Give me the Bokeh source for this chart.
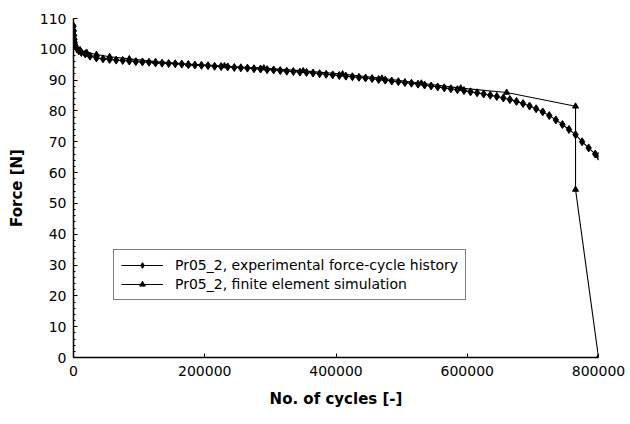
from bokeh.plotting import figure
from bokeh.models import (Range1d, FixedTicker, BasicTickFormatter, Legend, LegendItem,
                          ColumnDataSource)
from bokeh.embed import file_html
from bokeh.resources import INLINE

# Experimental force-cycle history (dense diamonds)
exp_cycles = [0, 500, 1000, 1500, 2000, 3000, 5000, 8000, 12000, 18000, 25000, 35000, 45000,
              55000, 65000, 75000, 85000, 95000, 105000, 115000, 125000, 135000, 145000,
              155000, 165000, 175000, 185000, 195000, 205000, 215000, 225000, 235000, 245000,
              255000, 265000, 275000, 285000, 295000, 305000, 315000, 325000, 335000, 345000,
              355000, 365000, 375000, 385000, 395000, 405000, 415000, 425000, 435000, 445000,
              455000, 465000, 475000, 485000, 495000, 505000, 515000, 525000, 535000, 545000,
              555000, 565000, 575000, 585000, 595000, 605000, 615000, 625000, 635000, 645000,
              655000, 665000, 675000, 685000, 695000, 705000, 715000, 725000, 735000, 745000,
              755000, 765000, 775000, 785000, 795000, 800000]
exp_force = [107.5, 106.0, 104.5, 103.2, 102.2, 101.2, 100.2, 99.5, 99.0, 98.5, 97.8, 97.2, 96.9,
             96.7, 96.5, 96.4, 96.2, 96.0, 95.9, 95.8, 95.6, 95.5, 95.4,
             95.3, 95.2, 95.0, 94.9, 94.8, 94.7, 94.5, 94.4, 94.3, 94.1,
             94.0, 93.9, 93.7, 93.6, 93.4, 93.3, 93.1, 92.9, 92.8, 92.6,
             92.5, 92.3, 92.1, 91.9, 91.7, 91.5, 91.3, 91.1, 90.9, 90.7,
             90.5, 90.2, 90.0, 89.7, 89.5, 89.2, 89.0, 88.7, 88.4, 88.1,
             87.8, 87.5, 87.2, 86.9, 86.6, 86.2, 85.9, 85.5, 85.1, 84.7,
             84.2, 83.7, 83.1, 82.4, 81.6, 80.7, 79.7, 78.5, 77.1, 75.6,
             74.0, 72.3, 70.0, 68.0, 66.0, 65.3]

# Finite element simulation (sparse triangles, failure drop)
sim_cycles = [0, 10000, 20000, 35000, 55000, 85000, 125000, 175000, 230000, 290000, 350000,
              410000, 470000, 530000, 590000, 660000, 765000, 765000, 800000]
sim_force = [101.5, 99.8, 99.0, 98.3, 97.6, 96.9, 96.0, 95.2, 94.6, 93.9, 93.0,
             92.0, 90.6, 89.0, 87.4, 86.0, 81.5, 54.5, 0.0]

x_ticks = [0, 200000, 400000, 600000, 800000]
y_ticks = [0, 10, 20, 30, 40, 50, 60, 70, 80, 90, 100, 110]

labels = ["Pr05_2, experimental force-cycle history", "Pr05_2, finite element simulation"]

p = figure(width=630, height=424, output_backend="svg", toolbar_location=None,
           x_range=Range1d(0, 800000), y_range=Range1d(0, 110),
           min_border_left=73, min_border_right=32, min_border_top=18, min_border_bottom=67)
p.outline_line_color = None
p.xgrid.visible = False
p.ygrid.visible = False
p.background_fill_color = "white"
p.border_fill_color = "white"

for ax in (p.xaxis, p.yaxis):
    ax.axis_line_color = "black"
    ax.axis_line_width = 1.5
    ax.major_tick_line_color = "black"
    ax.major_tick_in = 4
    ax.major_tick_out = 0
    ax.minor_tick_in = 2
    ax.minor_tick_out = 0
    ax.major_label_text_font = "DejaVu Sans"
    ax.major_label_text_font_size = "14px"
    ax.major_label_text_color = "black"
    ax.axis_label_text_font = "DejaVu Sans"
    ax.axis_label_text_font_style = "bold"
    ax.axis_label_text_font_size = "15px"
    ax.axis_label_text_color = "black"

p.xaxis.ticker = FixedTicker(ticks=x_ticks)
p.xaxis.formatter = BasicTickFormatter(use_scientific=False)
p.xaxis.minor_tick_line_color = None
p.xaxis.major_label_standoff = 8
p.xaxis.axis_label = "No. of cycles [-]"
p.xaxis.axis_label_standoff = 11

p.yaxis.ticker = FixedTicker(ticks=y_ticks, minor_ticks=[v for v in range(0, 111, 2)])
p.yaxis.minor_tick_line_color = "black"
p.yaxis.major_label_standoff = 7
p.yaxis.axis_label = "Force [N]"
p.yaxis.axis_label_standoff = 11

exp_src = ColumnDataSource(dict(x=exp_cycles, y=exp_force))
sim_src = ColumnDataSource(dict(x=sim_cycles, y=sim_force))

sim_line = p.line("x", "y", source=sim_src, line_color="black", line_width=1.1)
sim_pts = p.scatter("x", "y", source=sim_src, marker="triangle", size=6,
                    fill_color="black", line_color="black")
exp_line = p.line("x", "y", source=exp_src, line_color="black", line_width=1.1)
exp_pts = p.scatter("x", "y", source=exp_src, marker="diamond", size=8,
                    fill_color="black", line_color="black")

legend = Legend(items=[LegendItem(label=labels[0], renderers=[exp_line, exp_pts]),
                       LegendItem(label=labels[1], renderers=[sim_line, sim_pts])],
                location=(40, 57))
legend.border_line_color = "black"
legend.border_line_width = 1
legend.background_fill_alpha = 1
legend.label_text_font = "DejaVu Sans"
legend.label_text_font_size = "14px"
legend.label_text_color = "black"
legend.glyph_width = 42
legend.glyph_height = 14
legend.label_height = 14
legend.label_standoff = 12
legend.spacing = 3
legend.padding = 7
legend.margin = 0
p.add_layout(legend, "center")

open("out.html", "w").write(file_html(p, INLINE))
